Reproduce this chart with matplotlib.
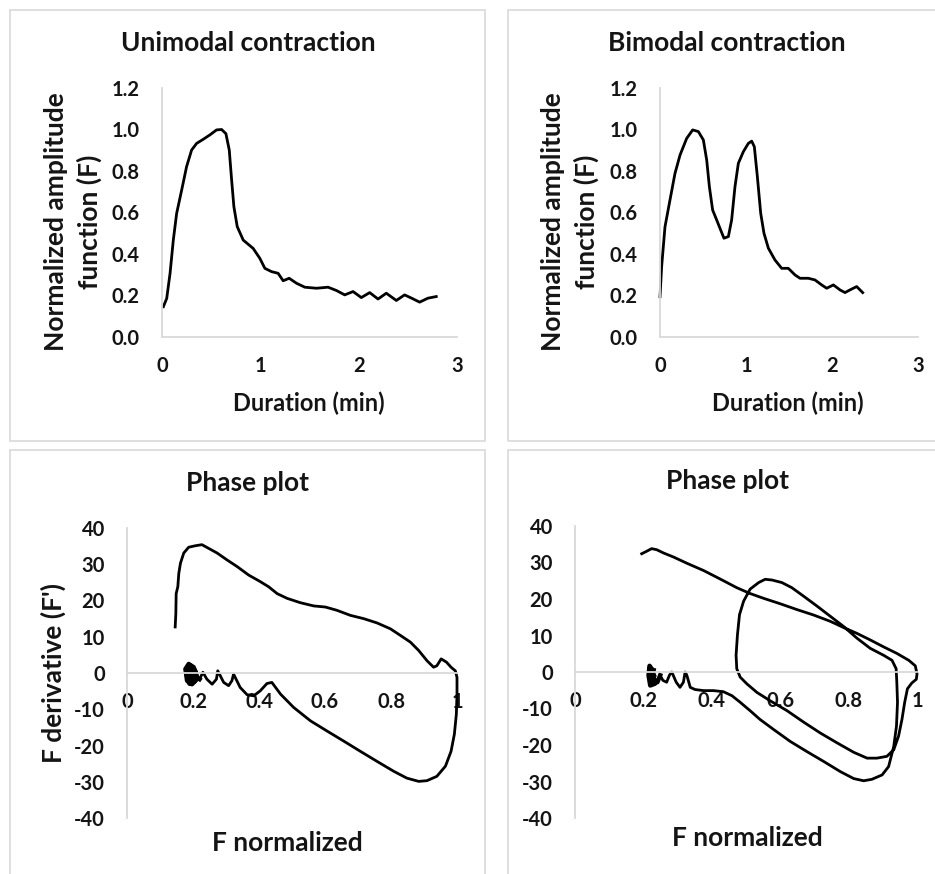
import numpy as np
import matplotlib
matplotlib.use("Agg")
import matplotlib.pyplot as plt
from matplotlib.patches import Rectangle

plt.rcParams['font.family'] = ['Lato', 'DejaVu Sans']
plt.rcParams['font.weight'] = 'bold'

W, H = 935, 874

# unimodal contraction: duration (min) vs normalized F
uni_t = [0.014, 0.048, 0.082, 0.115, 0.149, 0.20, 0.25, 0.301, 0.352, 0.42, 0.487,
         0.555, 0.606, 0.65, 0.684, 0.708, 0.731, 0.765, 0.826, 0.927, 0.995, 1.046,
         1.114, 1.181, 1.232, 1.293, 1.368, 1.452, 1.571, 1.689, 1.774, 1.858, 1.943,
         2.027, 2.112, 2.197, 2.281, 2.383, 2.467, 2.552, 2.62, 2.704, 2.789]
uni_f = [0.146, 0.186, 0.307, 0.467, 0.596, 0.708, 0.821, 0.901, 0.933, 0.953, 0.974,
         0.998, 1.0, 0.98, 0.901, 0.757, 0.628, 0.532, 0.467, 0.427, 0.379, 0.331,
         0.315, 0.307, 0.271, 0.283, 0.259, 0.24, 0.235, 0.24, 0.224, 0.203, 0.219,
         0.19, 0.214, 0.183, 0.211, 0.176, 0.203, 0.184, 0.168, 0.187, 0.195]

# bimodal contraction
bi_t = [0.0, 0.019, 0.058, 0.116, 0.174, 0.233, 0.31, 0.38, 0.446, 0.504, 0.543,
        0.574, 0.612, 0.659, 0.705, 0.744, 0.795, 0.833, 0.872, 0.911, 0.969, 1.027,
        1.066, 1.097, 1.132, 1.171, 1.209, 1.26, 1.337, 1.415, 1.492, 1.57, 1.628,
        1.725, 1.802, 1.88, 1.938, 2.016, 2.093, 2.151, 2.209, 2.287, 2.357]
bi_f = [0.194, 0.339, 0.531, 0.66, 0.788, 0.877, 0.957, 0.998, 0.99, 0.95, 0.853,
        0.725, 0.612, 0.564, 0.516, 0.476, 0.484, 0.564, 0.725, 0.837, 0.893, 0.933,
        0.944, 0.917, 0.773, 0.596, 0.5, 0.428, 0.371, 0.331, 0.331, 0.299, 0.283,
        0.283, 0.275, 0.251, 0.235, 0.251, 0.227, 0.214, 0.227, 0.243, 0.214]

# phase plot, unimodal: F normalized vs F'
ph1_f = [0.146, 0.148, 0.149, 0.154, 0.157, 0.162, 0.172, 0.187, 0.207, 0.227, 0.247,
         0.273, 0.303, 0.333, 0.369, 0.404, 0.429, 0.455, 0.485, 0.525, 0.566, 0.601,
         0.636, 0.677, 0.717, 0.758, 0.798, 0.828, 0.859, 0.884, 0.909, 0.929, 0.939,
         0.952, 0.968, 0.982, 0.995, 1.0, 1.0, 0.998, 0.992, 0.982, 0.965, 0.939,
         0.909, 0.884, 0.848, 0.808, 0.758, 0.707, 0.657, 0.606, 0.556, 0.505, 0.465,
         0.439, 0.424, 0.404, 0.384, 0.364, 0.343, 0.323, 0.318, 0.308, 0.293, 0.275,
         0.271, 0.258, 0.242, 0.23, 0.22]
ph1_d = [12.7, 16.4, 21.9, 23.8, 27.5, 30.3, 33.1, 34.7, 35.1, 35.4, 34.4,
         33.1, 31.2, 29.4, 27.0, 25.2, 23.8, 21.9, 20.6, 19.4, 18.5, 18.2,
         17.3, 15.9, 15.0, 13.8, 12.2, 10.4, 8.5, 6.2, 3.4, 1.6, 2.0,
         3.9, 3.0, 1.6, 0.6, -1.2, -5.8, -11.4, -16.9, -21.6, -25.7, -28.5,
         -29.7, -29.9, -29.0, -27.1, -24.4, -21.6, -18.8, -16.0, -13.2, -9.5, -5.8,
         -2.6, -2.9, -4.9, -6.3, -6.0, -4.0, -0.3, -2.1, -3.5, -2.6, 0.6,
         -1.7, -3.1, -1.7, 0.2, -1.7]
# noisy settling at the end of the unimodal cycle
ph1_tail_f = [0.22, 0.212, 0.202, 0.187, 0.177, 0.182, 0.197, 0.212, 0.207, 0.192,
              0.18, 0.187, 0.204, 0.2, 0.184, 0.192, 0.186, 0.196, 0.19, 0.183]
ph1_tail_d = [-1.7, -1.2, 1.6, 2.5, 1.1, -2.1, -3.1, -1.7, 0.6, 2.0,
              0.2, -2.6, -2.3, -0.3, 0.6, -1.4, 1.8, 1.0, -3.0, -0.5]

# phase plot, bimodal
ph2_f = [0.195, 0.21, 0.224, 0.239, 0.259, 0.288, 0.327, 0.376, 0.424, 0.473, 0.512,
         0.551, 0.6, 0.649, 0.698, 0.746, 0.785, 0.824, 0.863, 0.902, 0.941, 0.976,
         0.995, 1.0, 0.998, 0.985, 0.972, 0.964, 0.956, 0.946, 0.932, 0.912, 0.883,
         0.854, 0.815, 0.766, 0.717, 0.668, 0.62, 0.571, 0.532, 0.502, 0.483, 0.473,
         0.471, 0.475, 0.481, 0.493, 0.512, 0.537, 0.556, 0.576, 0.605, 0.634, 0.668,
         0.707, 0.746, 0.785, 0.824, 0.863, 0.902, 0.927, 0.939, 0.941, 0.943, 0.94,
         0.932, 0.917, 0.898, 0.868, 0.844, 0.815, 0.776, 0.727, 0.678, 0.629, 0.58,
         0.541, 0.512, 0.483, 0.459, 0.434, 0.405, 0.376, 0.351, 0.337, 0.327, 0.322,
         0.317, 0.307, 0.296, 0.283, 0.276, 0.268, 0.257, 0.249]
ph2_d = [32.4, 33.1, 33.8, 33.5, 32.6, 31.5, 29.8, 27.8, 25.5, 23.1, 21.5,
         20.2, 18.7, 17.1, 15.6, 13.9, 12.2, 10.6, 8.8, 6.9, 5.1, 3.2,
         1.7, -0.5, -2.0, -3.0, -4.6, -8.3, -13.0, -17.6, -21.3, -23.1, -23.6,
         -23.6, -22.0, -19.4, -16.7, -13.7, -10.6, -7.9, -5.6, -3.2, -1.4, 0.9,
         4.6, 10.2, 15.7, 19.4, 22.7, 24.5, 25.4, 25.2, 24.5, 23.1, 20.8,
         18.1, 15.3, 12.5, 9.3, 6.5, 4.6, 3.2, 0.9, -2.8, -8.3, -14.8,
         -20.4, -25.9, -28.2, -29.4, -29.8, -29.2, -27.3, -24.5, -21.8, -19.0, -15.7,
         -13.0, -10.6, -8.3, -6.5, -5.4, -5.1, -5.1, -4.8, -4.2, -0.9, 0.0,
         -2.8, -4.2, -2.8, 0.0, -0.9, -2.8, -2.3, -0.9]
ph2_tail_f = [0.249, 0.241, 0.229, 0.224, 0.218, 0.215, 0.22, 0.234, 0.227, 0.219,
              0.225, 0.232, 0.222, 0.23]
ph2_tail_d = [-0.9, -2.8, -2.0, 0.9, 1.7, -0.9, -3.7, -3.2, 0.0, 1.2,
              -2.2, -1.0, -3.3, 0.5]

time_ticks = [0, 1, 2, 3]
amp_ticks = [0.0, 0.2, 0.4, 0.6, 0.8, 1.0, 1.2]
fnorm_ticks = [0, 0.2, 0.4, 0.6, 0.8, 1]
fnorm_labels = ['0', '0.2', '0.4', '0.6', '0.8', '1']
deriv_ticks = [-40, -30, -20, -10, 0, 10, 20, 30, 40]

GRID = '#d9d9d9'
TXT = '#141414'
BIG = 19


def fx(px):
    return px / W


def fy(py):
    return 1 - py / H


def make_ax(fig, left, top, right, bottom):
    ax = fig.add_axes([fx(left), fy(bottom), (right - left) / W, (bottom - top) / H])
    for s in ['top', 'right']:
        ax.spines[s].set_visible(False)
    for s in ['left', 'bottom']:
        ax.spines[s].set_color(GRID)
        ax.spines[s].set_linewidth(1.3)
    ax.tick_params(length=0, labelsize=14.5, colors=TXT)
    ax.tick_params(axis='x', pad=14)
    ax.tick_params(axis='y', pad=16)
    ax.patch.set_alpha(0)
    return ax


fig = plt.figure(figsize=(W / 100, H / 100), dpi=100)

# panel frames
for l, t, r, b in [(10, 10, 485, 441), (508, 10, 945, 441),
                   (10, 450, 485, 884), (508, 450, 945, 884)]:
    fig.patches.append(Rectangle((fx(l), fy(b)), (r - l) / W, (b - t) / H,
                                 transform=fig.transFigure, fill=False,
                                 ec=GRID, lw=1.2))

# top row: amplitude vs time
for (l, r, t, f, title, tcx, ycx) in [(162, 457, uni_t, uni_f, 'Unimodal contraction', 248, 73),
                                       (660, 918, bi_t, bi_f, 'Bimodal contraction', 727, 570)]:
    ax = make_ax(fig, l, 88, r, 337)
    ax.plot(t, f, color='black', lw=2.0, clip_on=False, solid_joinstyle='round')
    ax.set_xlim(0, 3)
    ax.set_ylim(0, 1.2)
    ax.set_xticks(time_ticks)
    ax.set_xticklabels([str(v) for v in time_ticks])
    ax.set_yticks(amp_ticks)
    ax.set_yticklabels(['%.1f' % v for v in amp_ticks])
    fig.text(fx(tcx), fy(43), title, ha='center', va='center', fontsize=BIG, color=TXT)
    fig.text(fx((l + r) / 2 - 1), fy(403), 'Duration (min)', ha='center', va='center',
             fontsize=17, color=TXT)
    fig.text(fx(ycx), fy(222), 'Normalized amplitude\nfunction (F)', ha='center',
             va='center', rotation=90, fontsize=BIG, color=TXT, linespacing=1.45)

# bottom row: phase plots
for (l, r, top, fd, dd, tf, td, tcx, xl_cx, xl_cy) in [
        (127, 457, 528, ph1_f, ph1_d, ph1_tail_f, ph1_tail_d, 247, 287, 843),
        (575, 917, 526, ph2_f, ph2_d, ph2_tail_f, ph2_tail_d, 727, 747, 838)]:
    ax = make_ax(fig, l, top, r, 818)
    ax.plot(fd, dd, color='black', lw=2.0, clip_on=False, solid_joinstyle='round')
    ax.plot(tf, td, color='black', lw=3.2, clip_on=False, solid_joinstyle='round')
    ax.set_xlim(0, 1)
    ax.set_ylim(-40, 40)
    ax.spines['bottom'].set_position(('data', 0))
    ax.set_xticks(fnorm_ticks)
    ax.set_xticklabels(fnorm_labels)
    ax.set_yticks(deriv_ticks)
    ax.set_yticklabels([str(v) for v in deriv_ticks])
    fig.text(fx(tcx), fy(top - 45), 'Phase plot', ha='center', va='center',
             fontsize=BIG, color=TXT)
    fig.text(fx(xl_cx), fy(xl_cy), 'F normalized', ha='center', va='center',
             fontsize=BIG, color=TXT)

fig.text(fx(53), fy(673), "F derivative (F')", ha='center', va='center', rotation=90,
         fontsize=BIG, color=TXT)

fig.savefig('out.png', dpi=100)
